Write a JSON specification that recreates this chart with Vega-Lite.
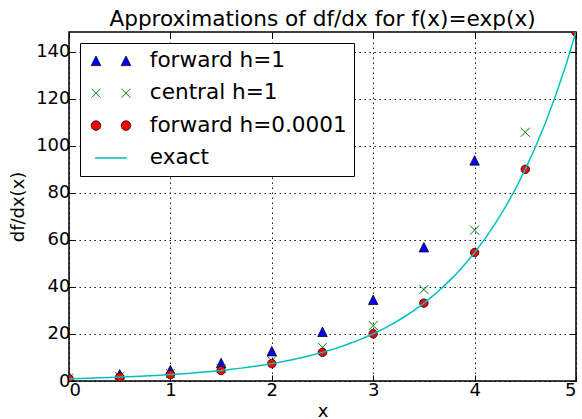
{
  "$schema": "https://vega.github.io/schema/vega-lite/v6.json",
  "width": 507,
  "height": 349,
  "autosize": {"type": "none"},
  "padding": {"left": 69, "top": 32, "right": 6, "bottom": 38},
  "background": "white",
  "title": {
    "text": "Approximations of df/dx for f(x)=exp(x)",
    "font": "DejaVu Sans",
    "fontSize": 21.6,
    "fontWeight": "normal",
    "color": "black",
    "anchor": "middle",
    "frame": "group",
    "baseline": "alphabetic",
    "offset": -16
  },
  "config": {
    "view": {"stroke": "black", "strokeWidth": 1.5},
    "axis": {
      "labelFont": "DejaVu Sans",
      "titleFont": "DejaVu Sans",
      "labelColor": "black",
      "titleColor": "black",
      "titleFontWeight": "normal",
      "labelFontSize": 18,
      "titleFontSize": 18,
      "tickColor": "black",
      "tickWidth": 1,
      "tickSize": -6,
      "domain": false,
      "gridColor": "black",
      "gridOpacity": 1,
      "gridWidth": 0.9,
      "gridDash": [1.5, 3.5]
    }
  },
  "datasets": {
    "d": [
      {"x": 0, "y": 1.71828, "series": "forward h=1"},
      {"x": 0.5, "y": 2.83297, "series": "forward h=1"},
      {"x": 1, "y": 4.67077, "series": "forward h=1"},
      {"x": 1.5, "y": 7.70085, "series": "forward h=1"},
      {"x": 2, "y": 12.69648, "series": "forward h=1"},
      {"x": 2.5, "y": 20.93289, "series": "forward h=1"},
      {"x": 3, "y": 34.51261, "series": "forward h=1"},
      {"x": 3.5, "y": 56.90198, "series": "forward h=1"},
      {"x": 4, "y": 93.81529, "series": "forward h=1"},
      {"x": 4.5, "y": 154.674, "series": "forward h=1"},
      {"x": 5, "y": 255.016, "series": "forward h=1"},
      {"x": 0, "y": 1.1752, "series": "central h=1"},
      {"x": 0.5, "y": 1.93758, "series": "central h=1"},
      {"x": 1, "y": 3.19453, "series": "central h=1"},
      {"x": 1.5, "y": 5.26687, "series": "central h=1"},
      {"x": 2, "y": 8.68363, "series": "central h=1"},
      {"x": 2.5, "y": 14.31688, "series": "central h=1"},
      {"x": 3, "y": 23.60454, "series": "central h=1"},
      {"x": 3.5, "y": 38.91732, "series": "central h=1"},
      {"x": 4, "y": 64.16381, "series": "central h=1"},
      {"x": 4.5, "y": 105.78821, "series": "central h=1"},
      {"x": 5, "y": 174.4139, "series": "central h=1"},
      {"x": 0, "y": 1.00005, "series": "forward h=0.0001"},
      {"x": 0.5, "y": 1.6488, "series": "forward h=0.0001"},
      {"x": 1, "y": 2.71842, "series": "forward h=0.0001"},
      {"x": 1.5, "y": 4.48191, "series": "forward h=0.0001"},
      {"x": 2, "y": 7.38943, "series": "forward h=0.0001"},
      {"x": 2.5, "y": 12.1831, "series": "forward h=0.0001"},
      {"x": 3, "y": 20.08655, "series": "forward h=0.0001"},
      {"x": 3.5, "y": 33.11711, "series": "forward h=0.0001"},
      {"x": 4, "y": 54.60088, "series": "forward h=0.0001"},
      {"x": 4.5, "y": 90.02163, "series": "forward h=0.0001"},
      {"x": 5, "y": 148.42058, "series": "forward h=0.0001"},
      {"x": 0, "y": 1, "series": "exact"},
      {"x": 0.1, "y": 1.10517, "series": "exact"},
      {"x": 0.2, "y": 1.2214, "series": "exact"},
      {"x": 0.3, "y": 1.34986, "series": "exact"},
      {"x": 0.4, "y": 1.49182, "series": "exact"},
      {"x": 0.5, "y": 1.64872, "series": "exact"},
      {"x": 0.6, "y": 1.82212, "series": "exact"},
      {"x": 0.7, "y": 2.01375, "series": "exact"},
      {"x": 0.8, "y": 2.22554, "series": "exact"},
      {"x": 0.9, "y": 2.4596, "series": "exact"},
      {"x": 1.0, "y": 2.71828, "series": "exact"},
      {"x": 1.1, "y": 3.00417, "series": "exact"},
      {"x": 1.2, "y": 3.32012, "series": "exact"},
      {"x": 1.3, "y": 3.6693, "series": "exact"},
      {"x": 1.4, "y": 4.0552, "series": "exact"},
      {"x": 1.5, "y": 4.48169, "series": "exact"},
      {"x": 1.6, "y": 4.95303, "series": "exact"},
      {"x": 1.7, "y": 5.47395, "series": "exact"},
      {"x": 1.8, "y": 6.04965, "series": "exact"},
      {"x": 1.9, "y": 6.68589, "series": "exact"},
      {"x": 2.0, "y": 7.38906, "series": "exact"},
      {"x": 2.1, "y": 8.16617, "series": "exact"},
      {"x": 2.2, "y": 9.02501, "series": "exact"},
      {"x": 2.3, "y": 9.97418, "series": "exact"},
      {"x": 2.4, "y": 11.02318, "series": "exact"},
      {"x": 2.5, "y": 12.18249, "series": "exact"},
      {"x": 2.6, "y": 13.46374, "series": "exact"},
      {"x": 2.7, "y": 14.87973, "series": "exact"},
      {"x": 2.8, "y": 16.44465, "series": "exact"},
      {"x": 2.9, "y": 18.17415, "series": "exact"},
      {"x": 3.0, "y": 20.08554, "series": "exact"},
      {"x": 3.1, "y": 22.19795, "series": "exact"},
      {"x": 3.2, "y": 24.53253, "series": "exact"},
      {"x": 3.3, "y": 27.11264, "series": "exact"},
      {"x": 3.4, "y": 29.9641, "series": "exact"},
      {"x": 3.5, "y": 33.11545, "series": "exact"},
      {"x": 3.6, "y": 36.59823, "series": "exact"},
      {"x": 3.7, "y": 40.4473, "series": "exact"},
      {"x": 3.8, "y": 44.70118, "series": "exact"},
      {"x": 3.9, "y": 49.40245, "series": "exact"},
      {"x": 4.0, "y": 54.59815, "series": "exact"},
      {"x": 4.1, "y": 60.34029, "series": "exact"},
      {"x": 4.2, "y": 66.68633, "series": "exact"},
      {"x": 4.3, "y": 73.69979, "series": "exact"},
      {"x": 4.4, "y": 81.45087, "series": "exact"},
      {"x": 4.5, "y": 90.01713, "series": "exact"},
      {"x": 4.6, "y": 99.48432, "series": "exact"},
      {"x": 4.7, "y": 109.94717, "series": "exact"},
      {"x": 4.8, "y": 121.51042, "series": "exact"},
      {"x": 4.9, "y": 134.28978, "series": "exact"},
      {"x": 5.0, "y": 148.41316, "series": "exact"}
    ]
  },
  "data": {"name": "d"},
  "resolve": {"axis": {"x": "independent", "y": "independent"}},
  "layer": [
    {
      "transform": [{"filter": "datum.series === 'forward h=1'"}],
      "mark": {"type": "point", "shape": "M0,-1L-1,1L1,1Z", "filled": true, "fill": "#0000ff", "stroke": "black", "strokeWidth": 0.75, "size": 90, "opacity": 1, "clip": true},
      "encoding": {
        "x": {"field": "x", "type": "quantitative", "scale": {"domain": [0, 5], "nice": false, "zero": false},
              "axis": {"orient": "top", "labels": false, "grid": false, "title": null, "values": [0, 1, 2, 3, 4, 5]}},
        "y": {"field": "y", "type": "quantitative", "scale": {"domain": [0, 148.41316], "nice": false, "zero": false},
              "axis": {"orient": "right", "labels": false, "grid": false, "title": null, "values": [0, 20, 40, 60, 80, 100, 120, 140]}}
      }
    },
    {
      "transform": [{"filter": "datum.series === 'central h=1'"}],
      "mark": {"type": "point", "shape": "M-1,-1L1,1M-1,1L1,-1", "filled": false, "stroke": "#008000", "strokeWidth": 1, "size": 81, "opacity": 1, "clip": true},
      "encoding": {
        "x": {"field": "x", "type": "quantitative", "axis": null},
        "y": {"field": "y", "type": "quantitative", "axis": null}
      }
    },
    {
      "transform": [{"filter": "datum.series === 'forward h=0.0001'"}],
      "mark": {"type": "point", "shape": "circle", "filled": true, "fill": "#ff0000", "stroke": "black", "strokeWidth": 0.75, "size": 72, "opacity": 1, "clip": true},
      "encoding": {
        "x": {"field": "x", "type": "quantitative", "axis": null},
        "y": {"field": "y", "type": "quantitative", "axis": null}
      }
    },
    {
      "transform": [{"filter": "datum.series === 'exact'"}],
      "mark": {"type": "line", "strokeWidth": 1.5, "clip": true},
      "encoding": {
        "x": {"field": "x", "type": "quantitative",
              "axis": {"orient": "bottom", "values": [0, 1, 2, 3, 4, 5], "grid": true, "title": "x", "labelPadding": 6, "titlePadding": 3}},
        "y": {"field": "y", "type": "quantitative",
              "axis": {"orient": "left", "values": [0, 20, 40, 60, 80, 100, 120, 140], "grid": true, "title": "df/dx(x)", "labelPadding": 5, "titlePadding": 8}},
        "stroke": {
          "field": "series", "type": "nominal",
          "scale": {"domain": ["forward h=1", "central h=1", "forward h=0.0001", "exact"], "range": ["black", "#008000", "black", "#00bfbf"]},
          "legend": {
            "title": null,
            "orient": "none",
            "legendX": 11,
            "legendY": 11,
            "padding": 7,
            "strokeColor": "black",
            "fillColor": "white",
            "cornerRadius": 0,
            "symbolSize": 1600,
            "symbolStrokeWidth": 1,
            "symbolOffset": 13.2,
            "labelOffset": 4,
            "labelFont": "DejaVu Sans",
            "labelFontSize": 21.6,
            "labelColor": "black",
            "labelLimit": 400,
            "rowPadding": 9.4,
            "encoding": {
              "labels": {"dx": {"value": 24}},
              "symbols": {
                "shape": {"value": {"expr": "datum.value === 'forward h=1' ? 'M-0.75,-0.24L-0.99,0.24L-0.51,0.24ZM0.75,-0.24L0.51,0.24L0.99,0.24Z' : datum.value === 'central h=1' ? 'M-0.975,-0.225L-0.525,0.225M-0.975,0.225L-0.525,-0.225M0.525,-0.225L0.975,0.225M0.525,0.225L0.975,-0.225' : datum.value === 'forward h=0.0001' ? 'M-0.99,0A0.24,0.24 0 1,0 -0.51,0A0.24,0.24 0 1,0 -0.99,0ZM0.51,0A0.24,0.24 0 1,0 0.99,0A0.24,0.24 0 1,0 0.51,0Z' : 'M-0.8,0L0.8,0'"}},
                "fill": {"value": {"expr": "datum.value === 'forward h=1' ? '#0000ff' : datum.value === 'forward h=0.0001' ? '#ff0000' : 'transparent'"}},
                "stroke": {"value": {"expr": "datum.value === 'central h=1' ? '#008000' : datum.value === 'exact' ? '#00bfbf' : 'black'"}},
                "strokeWidth": {"value": {"expr": "datum.value === 'exact' ? 1.5 : datum.value === 'central h=1' ? 1 : 0.75"}},
                "opacity": {"value": 1},
                "fillOpacity": {"value": 1},
                "strokeOpacity": {"value": 1}
              }
            }
          }
        }
      }
    }
  ]
}
